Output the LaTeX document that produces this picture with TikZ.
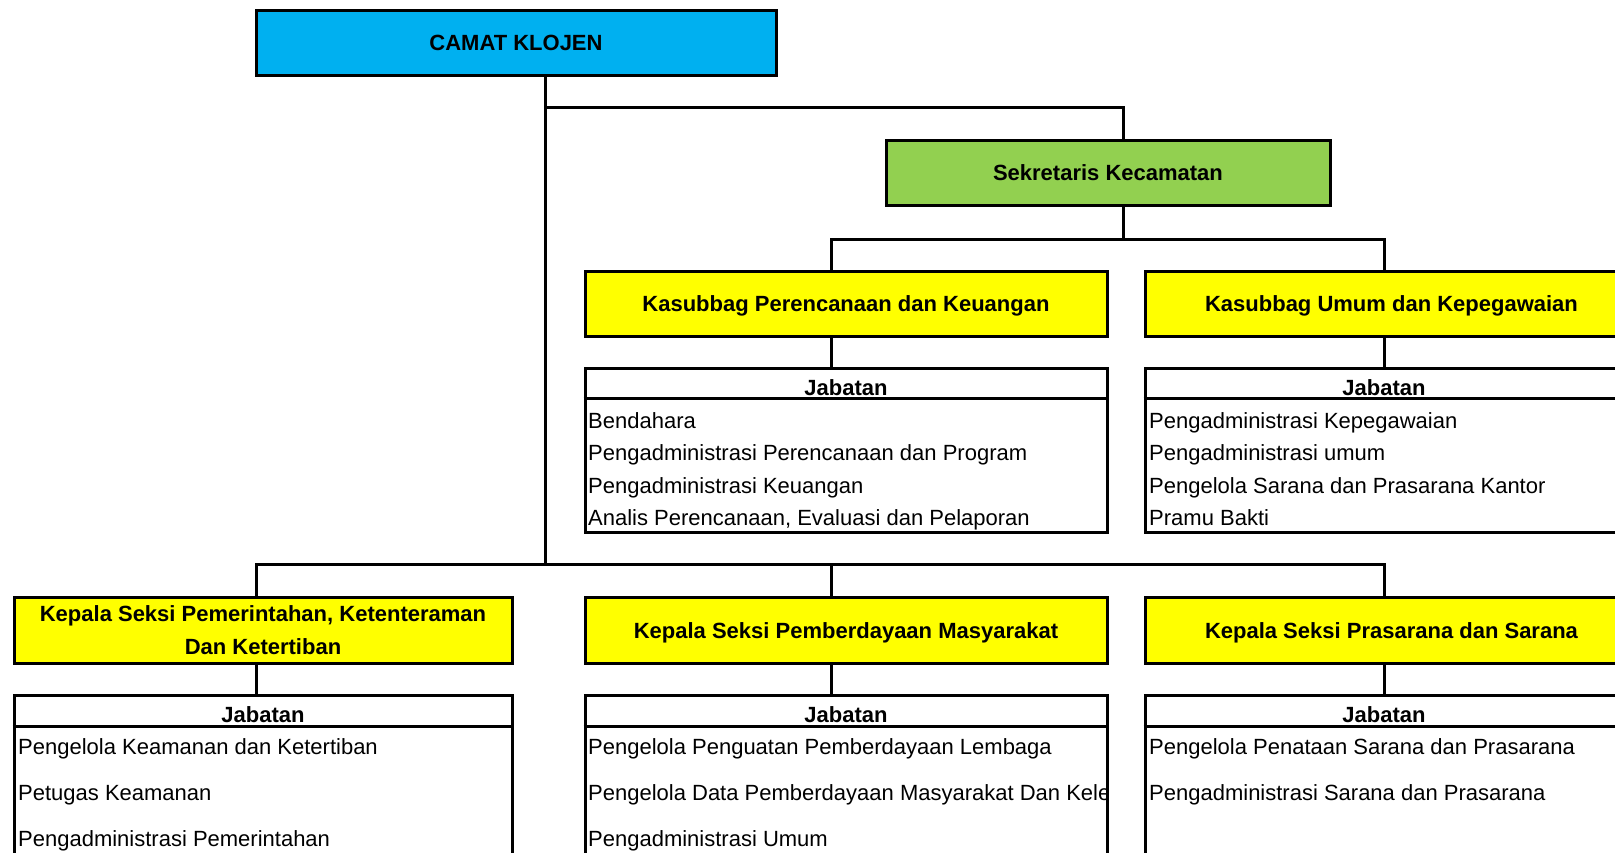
\documentclass[tikz,border=0pt]{standalone}
\usepackage{fontspec}
\setmainfont{Liberation Sans}
\definecolor{camatblue}{HTML}{00B0F0}
\definecolor{sekgreen}{HTML}{92D050}
\definecolor{kyellow}{HTML}{FFFF00}
\begin{document}
\begin{tikzpicture}[x=1pt,y=-1pt,
  every node/.style={font=\fontsize{22}{26}\selectfont},
  titlebox/.style={draw, line width=3pt, inner sep=0pt, text height=16pt, text depth=0pt,
     font=\fontsize{22}{26}\selectfont\bfseries},
  twobox/.style={draw, line width=3pt, inner sep=0pt, align=center,
     font=\fontsize{22}{33}\selectfont\bfseries},
  framebox/.style={draw, line width=3pt, inner sep=0pt, fill=white},
  hdr/.style={anchor=base, inner sep=0pt, font=\fontsize{22}{26}\selectfont\bfseries},
  item/.style={anchor=base west, inner sep=0pt},
  conn/.style={line width=3pt},
  sepline/.style={line width=3pt}]
\useasboundingbox (0,0) rectangle (1615,852);
\clip (0,0) rectangle (1615,852);

% top level
\node[titlebox, fill=camatblue, minimum width=520pt, minimum height=65pt] (camat) at (516,42.5) {CAMAT KLOJEN};
\node[titlebox, fill=sekgreen, minimum width=444pt, minimum height=65pt] (sek) at (1108,172.5) {Sekretaris Kecamatan};

% kasubbag
\node[titlebox, fill=kyellow, minimum width=522pt, minimum height=65pt] (kpk) at (846,303.5) {Kasubbag Perencanaan dan Keuangan};
\node[titlebox, fill=kyellow, minimum width=493pt, minimum height=65pt] (kuk) at (1391.5,303.5) {Kasubbag Umum dan Kepegawaian};

% jabatan top
\node[framebox, minimum width=522pt, minimum height=164pt] (jpk) at (846,450) {};
\node[framebox, minimum width=478pt, minimum height=164pt] (juk) at (1384,450) {};
\draw[sepline] ([yshift=-32pt]jpk.north west) -- ([yshift=-32pt]jpk.north east);
\draw[sepline] ([yshift=-32pt]juk.north west) -- ([yshift=-32pt]juk.north east);
\node[hdr] (jpkh) at (846,395) {Jabatan};
\node[hdr] (jukh) at (1384,395) {Jabatan};
\node[item] (pk1) at (588,428) {Bendahara};
\node[item] (pk2) at (588,460.5) {Pengadministrasi Perencanaan dan Program};
\node[item] (pk3) at (588,493) {Pengadministrasi Keuangan};
\node[item] (pk4) at (588,525) {Analis Perencanaan, Evaluasi dan Pelaporan};
\node[item] (uk1) at (1149,428) {Pengadministrasi Kepegawaian};
\node[item] (uk2) at (1149,460.5) {Pengadministrasi umum};
\node[item] (uk3) at (1149,493) {Pengelola Sarana dan Prasarana Kantor};
\node[item] (uk4) at (1149,525) {Pramu Bakti};

% kepala seksi
\node[twobox, fill=kyellow, minimum width=498pt, minimum height=66pt] (kpem) at (263,630) {Kepala Seksi Pemerintahan, Ketenteraman\\Dan Ketertiban};
\node[titlebox, fill=kyellow, minimum width=522pt, minimum height=66pt] (kpb) at (846,630) {Kepala Seksi Pemberdayaan Masyarakat};
\node[titlebox, fill=kyellow, minimum width=493pt, minimum height=66pt] (kps) at (1391.5,630) {Kepala Seksi Prasarana dan Sarana};

% jabatan bottom
\node[framebox, minimum width=498pt, minimum height=185pt] (jpem) at (263,787.5) {};
\node[framebox, minimum width=522pt, minimum height=185pt] (jpb) at (846,787.5) {};
\node[framebox, minimum width=478pt, minimum height=185pt] (jps) at (1384,787.5) {};
\draw[sepline] ([yshift=-33pt]jpem.north west) -- ([yshift=-33pt]jpem.north east);
\draw[sepline] ([yshift=-33pt]jpb.north west) -- ([yshift=-33pt]jpb.north east);
\draw[sepline] ([yshift=-33pt]jps.north west) -- ([yshift=-33pt]jps.north east);
\node[hdr] (jpemh) at (263,722) {Jabatan};
\node[hdr] (jpbh) at (846,722) {Jabatan};
\node[hdr] (jpsh) at (1384,722) {Jabatan};
\node[item] (pm1) at (18,754) {Pengelola Keamanan dan Ketertiban};
\node[item] (pm2) at (18,800) {Petugas Keamanan};
\node[item] (pm3) at (18,846) {Pengadministrasi Pemerintahan};
\node[item] (pb1) at (588,754) {Pengelola Penguatan Pemberdayaan Lembaga};
\begin{scope}
  \clip (585,730) rectangle (1105,860);
  \node[item] (pb2) at (588,800) {Pengelola Data Pemberdayaan Masyarakat Dan Kele};
\end{scope}
\node[item] (pb3) at (588,846) {Pengadministrasi Umum};
\node[item] (ps1) at (1149,754) {Pengelola Penataan Sarana dan Prasarana};
\node[item] (ps2) at (1149,800) {Pengadministrasi Sarana dan Prasarana};

% junction coordinates
\coordinate (j1) at (545,107);
\coordinate (j2) at (545,564);
\coordinate (s1) at (1123,239);
\coordinate (cB) at (831,239);
\coordinate (cC) at (1384,239);
\coordinate (bA) at (256,564);
\coordinate (bB) at (831,564);
\coordinate (bC) at (1384,564);

% connectors
\draw[conn] (camat.south -| j1) -- (j2);
\draw[conn] (j1) -| (sek.north -| s1);
\draw[conn] (sek.south -| s1) -- (s1);
\draw[conn] (kpk.north -| cB) -- (cB) -- (cC) -- (kuk.north -| cC);
\draw[conn] (kpk.south -| cB) -- (jpk.north -| cB);
\draw[conn] (kuk.south -| cC) -- (juk.north -| cC);
\draw[conn] (kpem.north -| bA) -- (bA) -- (bC) -- (kps.north -| bC);
\draw[conn] (bB) -- (kpb.north -| bB);
\draw[conn] (kpem.south -| bA) -- (jpem.north -| bA);
\draw[conn] (kpb.south -| bB) -- (jpb.north -| bB);
\draw[conn] (kps.south -| bC) -- (jps.north -| bC);
\end{tikzpicture}
\end{document}
